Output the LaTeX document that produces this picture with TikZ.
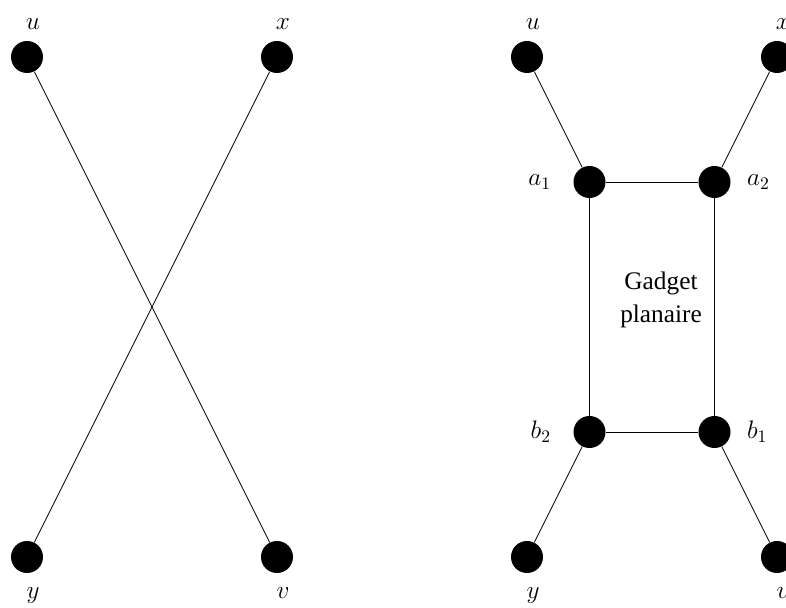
\documentclass[tikz,border=0pt]{standalone}
\usepackage{fontspec}
\setmainfont{Liberation Serif}
\usepackage{tikz}
\usetikzlibrary{positioning}

\begin{document}
\begin{tikzpicture}[
  vertex/.style={circle,fill=black,inner sep=0pt,minimum size=0.64cm},
  every label/.style={font=\Large},
  up/.style={label={[label distance=0.1cm,xshift=0.12cm]above:#1}},
  down/.style={label={[label distance=0.16cm,xshift=0.12cm]below:#1}},
  lft/.style={label={[label distance=0.32cm]left:#1}},
  rgt/.style={label={[label distance=0.2cm]right:#1}}
]
\useasboundingbox (-0.54,1.14) rectangle (15.18,-11.02);
% Crossing edges
\node[vertex,up=$u$] (u) at (0,0) {};
\node[vertex,up=$x$] (x) at (5,0) {};
\node[vertex,down=$y$] (y) at (0,-10) {};
\node[vertex,down=$v$] (v) at (5,-10) {};
\draw (u) -- (v);
\draw (x) -- (y);
% Planar gadget
\node[vertex,up=$u$] (u2) at (10,0) {};
\node[vertex,up=$x$] (x2) at (15,0) {};
\node[vertex,down=$y$] (y2) at (10,-10) {};
\node[vertex,down=$v$] (v2) at (15,-10) {};
\node[vertex,lft=$a_1$] (a1) at (11.25,-2.5) {};
\node[vertex,rgt=$a_2$] (a2) at (13.75,-2.5) {};
\node[vertex,lft=$b_2$] (b2) at (11.25,-7.5) {};
\node[vertex,rgt=$b_1$] (b1) at (13.75,-7.5) {};
\draw (a1) -- (a2) -- (b1) -- (b2) -- (a1);
\draw (u2) -- (a1);
\draw (x2) -- (a2);
\draw (y2) -- (b2);
\draw (v2) -- (b1);
\node[font=\Large,align=center] (gadget) at (12.68,-4.86) {Gadget\\[1pt]planaire};
\end{tikzpicture}
\end{document}
